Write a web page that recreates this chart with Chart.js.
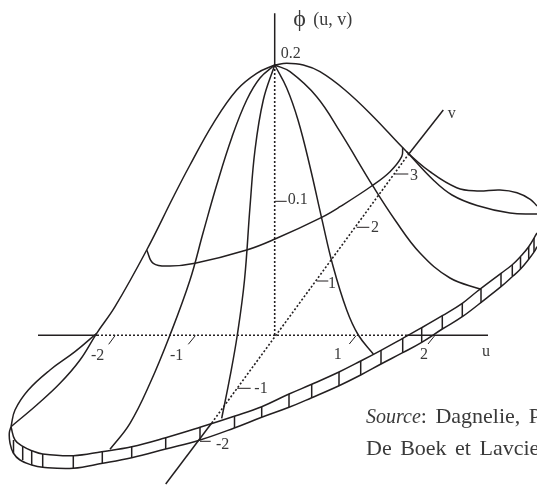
<!DOCTYPE html>
<html>
<head>
<meta charset="utf-8">
<script src="https://cdn.jsdelivr.net/npm/chart.js@4"></script>
<style>
  html, body { margin: 0; padding: 0; background: #fff; overflow: hidden; }
  canvas { display: block; }
</style>
</head>
<body>
<canvas id="myChart" width="537" height="486"></canvas>
<script>
var peak = [274.7, 65];

var meridian_1 = [peak, [256.7, 73.3], [236.7, 90], [213.3, 123.3], [190, 165], [173.3, 197], [146.7, 250], [115, 306.7], [96.7, 333.3], [80, 360], [60, 383.3], [36.7, 405], [11, 426.7]];
var silhouette_left = [[96.7, 333.3], [75, 351.7], [50, 370], [28.3, 390], [15, 410], [11, 426.7]];
var meridian_2 = [peak, [260, 78], [246.7, 100], [232, 137], [216.7, 185], [203.3, 232], [190, 280], [170, 335], [150, 383.3], [130, 423.3], [110, 449.3]];
var meridian_3 = [peak, [263.3, 100], [255, 150], [250, 206.7], [244.5, 280], [237.3, 335], [230, 376.7], [221.7, 418.3]];
var meridian_4 = [peak, [286.7, 88], [298, 120], [310, 166.7], [321.7, 218.3], [333, 266], [346.7, 310], [358.3, 335], [373.3, 354]];
var meridian_5 = [peak, [290, 71.7], [316.7, 96.7], [340, 131.7], [373.3, 186.7], [395, 220], [420, 253], [450, 278], [481, 289.3]];
var ridge_top = [peak, [286.7, 63.3], [303.3, 65], [320, 71.7], [345, 90], [373.3, 116.7], [406.7, 151.7], [430, 171.7], [456.7, 187.7], [477, 191], [500, 190], [517, 192.7], [530.3, 199.3], [537, 206]];
var ridge_lower = [[406.7, 151.7], [433.3, 180], [452, 195], [477, 205.5], [510, 213], [537, 214]];
var cross_curve = [[146.7, 250], [153.3, 263.3], [170, 266], [195, 263.3], [246.7, 250], [275, 239], [321.7, 217.3], [340, 206.7], [371.7, 186], [390, 171.7], [401.7, 156.7], [402.7, 147.3]];

var rim_top = [[11, 426.7], [15, 440], [23.3, 446.7], [31.7, 450.7], [42.7, 454], [73.3, 455.7], [101.7, 451.7], [131.7, 446.7], [165.7, 437.7], [200, 427.3], [235, 416], [261.7, 406.7], [289, 394], [311.7, 384.3], [339, 372], [360.7, 361], [381, 350.3], [402.7, 338.3], [421.7, 327.7], [442.3, 315.7], [462.3, 303.3], [477, 291.5], [501, 273.3], [512, 265], [520.3, 256.7], [528.7, 246.7], [537, 233]];
var rim_bottom = [[11, 426.7], [9.3, 433], [10, 443], [13.3, 453], [20, 460], [31.7, 465], [42.7, 467.3], [73.3, 468.3], [102.7, 463.3], [131.7, 457.7], [165.7, 449], [200, 440], [234.3, 428], [261.7, 417.3], [289, 407.3], [311.7, 397.7], [339, 385.7], [360.7, 375], [381, 364], [402.7, 352.7], [421.7, 342.3], [442.3, 329], [462.3, 316.7], [485, 299.3], [501, 286.7], [513, 276], [520.3, 269.3], [528.7, 259.3], [534.3, 251.7], [537, 246.7]];
var rim_ticks = [
  [[13.5, 440], [13.5, 453]], [[22.7, 446], [22.7, 460]], [[31.7, 450.7], [31.7, 465]], [[42.7, 454], [42.7, 467]],
  [[73.3, 455.7], [73.3, 468.5]], [[102.3, 452], [102.3, 463]], [[131.7, 447], [131.7, 458]], [[165.7, 438], [165.7, 449]],
  [[200, 427], [200, 440]], [[234.5, 416], [234.5, 428]], [[261.7, 407], [261.7, 417]], [[289, 394], [289, 407]],
  [[311.7, 384], [311.7, 398]], [[339, 372], [339, 386]], [[360.7, 361], [360.7, 375]], [[381, 350], [381, 364]],
  [[402.7, 338], [402.7, 353]], [[421.7, 328], [421.7, 342]], [[442.3, 316], [442.3, 329]], [[462.3, 303], [462.3, 317]],
  [[481, 289], [481, 303]], [[501, 273.3], [501, 286.7]], [[512.3, 265], [512.3, 276]], [[520.5, 256.7], [520.5, 269]],
  [[528.7, 246.7], [528.7, 259.3]], [[534, 238], [534, 252]]
];

var axis_solid = [
  [[274.7, 13.3], [274.7, 65]],
  [[38, 335.3], [97, 335.3]],
  [[407, 335.3], [488, 335.3]],
  [[165.7, 484], [211.7, 423]],
  [[408, 155], [443.3, 110]]
];
var axis_dotted = [
  [[274.7, 65], [274.7, 335]],
  [[97, 335.3], [407, 335.3]],
  [[211.7, 423], [408, 155]]
];
var tick_marks = [
  [[108.7, 344.3], [115, 335.7]], [[188.3, 344.3], [195.3, 335.7]], [[349.3, 344], [356, 335.7]], [[428, 344], [434.7, 335.7]],
  [[237.3, 388.3], [250.7, 388.3]], [[200, 441.3], [210.7, 441.3]], [[316.7, 281], [328.3, 281]], [[356.7, 227.3], [369.3, 227.3]],
  [[395, 174], [408.3, 174]], [[275, 201.3], [286.7, 201.3]]
];

// [text, x, y]
var tick_labels = [
  ['-2', 97.7, 356], ['-1', 176.7, 356], ['1', 337.7, 355], ['2', 424, 355], ['u', 486, 352],
  ['-1', 261, 388.7], ['-2', 222.7, 444.7], ['1', 332, 283.3], ['2', 375, 228], ['3', 414, 176], ['v', 451.7, 114],
  ['0.2', 290.7, 53.7], ['0.1', 297.7, 200]
];
var axis_title = ['(u, v)', 313.3, 20];
var phi_label = ['\u03d5', 299.5, 20];
var source_lines = [['Source', ': Dagnelie, P.', 366, 423.3], ['', 'De Boek et Lavcier', 366, 455]];

var ink = '#231f20';

function line(points, width, dash) {
  return {
    data: points.map(p => ({ x: p[0], y: p[1] })),
    showLine: true,
    borderColor: ink,
    borderWidth: width,
    borderDash: dash || [],
    pointRadius: 0,
    tension: points.length > 2 ? 0.4 : 0
  };
}

var datasets = [];
[meridian_1, silhouette_left, meridian_2, meridian_3, meridian_4, meridian_5, ridge_top, ridge_lower, cross_curve, rim_top, rim_bottom]
  .forEach(c => datasets.push(line(c, 1.5)));
rim_ticks.forEach(c => datasets.push(line(c, 1.5)));
axis_solid.forEach(c => datasets.push(line(c, 1.5)));
axis_dotted.forEach(c => datasets.push(line(c, 1.6, [2, 2])));
tick_marks.forEach(c => datasets.push(line(c, 1)));

// Chart.js has no free text annotations, so labels are placed through the scales
var textPlugin = {
  id: 'textPlugin',
  afterDatasetsDraw(chart) {
    var c = chart.ctx, sx = chart.scales.x, sy = chart.scales.y;
    c.save();
    c.fillStyle = '#3a3a3a';
    c.textBaseline = 'middle';
    c.textAlign = 'center';
    c.font = '16px "Liberation Serif"';
    tick_labels.forEach(t => c.fillText(t[0], sx.getPixelForValue(t[1]), sy.getPixelForValue(t[2])));

    c.textAlign = 'left';
    c.font = '18px "Liberation Serif"';
    c.fillText(axis_title[0], sx.getPixelForValue(axis_title[1]), sy.getPixelForValue(axis_title[2]));
    c.textAlign = 'center';
    c.font = '24px "Liberation Serif"';
    c.fillText(phi_label[0], sx.getPixelForValue(phi_label[1]), sy.getPixelForValue(phi_label[2]));

    c.textAlign = 'left';
    c.textBaseline = 'alphabetic';
    c.wordSpacing = '3px';
    source_lines.forEach(s => {
      var x = sx.getPixelForValue(s[2]), y = sy.getPixelForValue(s[3]);
      if (s[0]) {
        c.font = 'italic 20px "Liberation Serif"';
        c.fillText(s[0], x, y);
        x += c.measureText(s[0]).width;
      }
      c.font = '22px "Liberation Serif"';
      c.fillText(s[1], x, y);
    });
    c.restore();
  }
};

var ctx = document.getElementById('myChart').getContext('2d');
var myChart = new Chart(ctx, {
  type: 'scatter',
  data: { datasets: datasets },
  plugins: [textPlugin],
  options: {
    responsive: false,
    animation: false,
    layout: { padding: 0 },
    plugins: { legend: { display: false }, tooltip: { enabled: false } },
    scales: {
      x: { type: 'linear', display: false, min: 0, max: 537 },
      y: { type: 'linear', display: false, min: 0, max: 486, reverse: true }
    }
  }
});
</script>
</body>
</html>
